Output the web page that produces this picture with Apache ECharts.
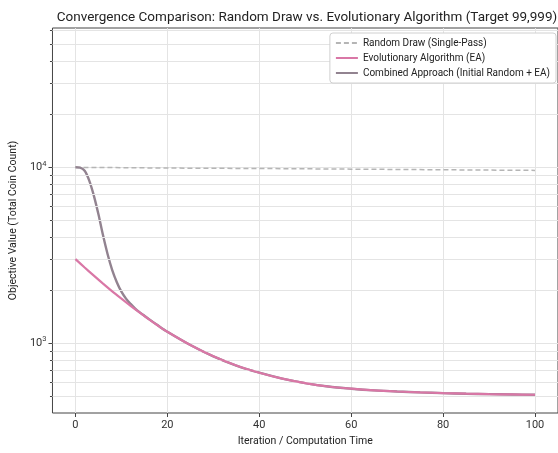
<!DOCTYPE html>
<html>
<head>
<meta charset="utf-8">
<script src="https://cdn.jsdelivr.net/npm/echarts@6/dist/echarts.min.js"></script>
<style>html,body{margin:0;padding:0;background:#fff;}#c{width:558px;height:453px;}</style>
</head>
<body>
<div id="c"></div>
<script>
// Data
const randomX = [0, 10, 20, 30, 40, 50, 60, 70, 80, 90, 100];
const randomY = [9990, 9950, 9900, 9870, 9840, 9800, 9760, 9720, 9680, 9640, 9600];

const eaX = [0, 2, 4, 6, 8, 10, 12, 14, 16, 18, 20, 25, 30, 35, 40, 45, 50, 55, 60, 65, 70, 75, 80, 85, 90, 95, 100];
const eaY = [3000, 2690, 2420, 2180, 1970, 1790, 1630, 1490, 1365, 1255, 1160, 975, 840, 745, 678, 628, 592, 566, 550, 538, 530, 524, 519, 515, 512, 510, 508];

const combX = [0, 1, 2, 3, 4, 5, 6, 7, 8, 9, 10, 11, 12, 13, 14, 15, 16, 18, 20, 25, 30, 35, 40, 45, 50, 55, 60, 65, 70, 75, 80, 85, 90, 95, 100];
const combY = [10000, 9950, 9550, 8400, 6900, 5400, 4100, 3200, 2600, 2220, 1960, 1790, 1670, 1570, 1495, 1430, 1368, 1257, 1160, 975, 840, 745, 678, 628, 592, 566, 550, 538, 530, 524, 519, 515, 512, 510, 508];

const xTicks = [0, 20, 40, 60, 80, 100];
const yMajor = [1000, 10000];
const yMinor = [500, 600, 700, 800, 900, 2000, 3000, 4000, 5000, 6000, 7000, 8000, 9000, 20000, 30000, 40000, 50000, 60000];

const titleText = 'Convergence Comparison: Random Draw vs. Evolutionary Algorithm (Target 99,999)';
const names = ['Random Draw (Single-Pass)', 'Evolutionary Algorithm (EA)', 'Combined Approach (Initial Random + EA)'];

const zip = (xs, ys) => xs.map((x, i) => [x, ys[i]]);
const FONT = 'Roboto';

const chart = echarts.init(document.getElementById('c'), null, {renderer: 'canvas'});
chart.setOption({
  backgroundColor: '#fff',
  animation: false,
  textStyle: {fontFamily: FONT},
  title: {
    text: titleText,
    left: 302, top: 6, textAlign: 'center',
    textStyle: {fontFamily: FONT, fontSize: 13.5, fontWeight: 'normal', color: '#222'}
  },
  grid: {left: 47, top: 28, width: 515, height: 385, show: true, borderColor: '#444', borderWidth: 1, containLabel: false},
  legend: {
    orient: 'vertical', right: 2, top: 33, z: 20,
    padding: [5, 6, 5, 5], itemGap: 5, itemWidth: 22, itemHeight: 10,
    backgroundColor: '#fff', borderColor: '#d0d0d0', borderWidth: 1, borderRadius: 3,
    itemStyle: {opacity: 0},
    textStyle: {fontFamily: FONT, fontSize: 10, color: '#222'},
    data: names
  },
  xAxis: {
    type: 'value', min: -5, max: 105, interval: 20,
    axisLine: {show: false, onZero: false},
    axisTick: {show: true, length: 4, lineStyle: {color: '#444'}, customValues: xTicks},
    axisLabel: {fontFamily: FONT, fontSize: 11, color: '#333', margin: 7, customValues: xTicks},
    splitLine: {show: true, lineStyle: {color: '#e4e4e4', width: 1}},
    name: 'Iteration / Computation Time', nameLocation: 'middle', nameGap: 22,
    nameTextStyle: {fontFamily: FONT, fontSize: 10.5, color: '#222'}
  },
  yAxis: [{
    type: 'log', logBase: 10, min: 400, max: 62000,
    axisLine: {show: false, onZero: false},
    axisTick: {show: true, length: 4, lineStyle: {color: '#444'}, customValues: yMajor},
    axisLabel: {
      fontFamily: FONT, margin: 6, customValues: yMajor,
      formatter: v => '{b|10}{s|' + Math.round(Math.log10(v)) + '}',
      rich: {
        b: {fontFamily: FONT, fontSize: 11, color: '#333'},
        s: {fontFamily: FONT, fontSize: 7.5, color: '#333', padding: [0, 0, 7, 0]}
      }
    },
    splitLine: {show: true, lineStyle: {color: '#e4e4e4', width: 1}},
    name: 'Objective Value (Total Coin Count)', nameLocation: 'middle', nameGap: 30,
    nameTextStyle: {fontFamily: FONT, fontSize: 10.5, color: '#222'}
  }, {
    type: 'log', logBase: 10, min: 400, max: 62000, position: 'left',
    axisLine: {show: false, onZero: false},
    axisTick: {show: true, length: 2.5, lineStyle: {color: '#444'}, customValues: yMinor},
    axisLabel: {show: false},
    splitLine: {show: false}
  }],
  series: [
    {
      name: names[0], type: 'line', data: zip(randomX, randomY), showSymbol: false, symbol: 'none',
      lineStyle: {color: '#b5b5b5', width: 1.5, type: [5, 3]}, itemStyle: {color: '#b5b5b5'}, z: 3,
      markLine: {
        silent: true, symbol: 'none', label: {show: false}, animation: false,
        lineStyle: {color: '#e4e4e4', width: 1, type: 'solid'},
        data: yMinor.map(v => ({yAxis: v}))
      }
    },
    {
      name: names[2], type: 'line', data: zip(combX, combY), showSymbol: false, symbol: 'none',
      smooth: 0.3,
      lineStyle: {color: '#928390', width: 2.4},
      itemStyle: {color: '#928390'}, z: 4
    },
    {
      name: names[1], type: 'line', data: zip(eaX, eaY), showSymbol: false, symbol: 'none',
      smooth: 0.3,
      lineStyle: {color: '#d977a6', width: 2.2}, itemStyle: {color: '#d977a6'}, z: 5
    }
  ]
});
</script>
</body>
</html>
